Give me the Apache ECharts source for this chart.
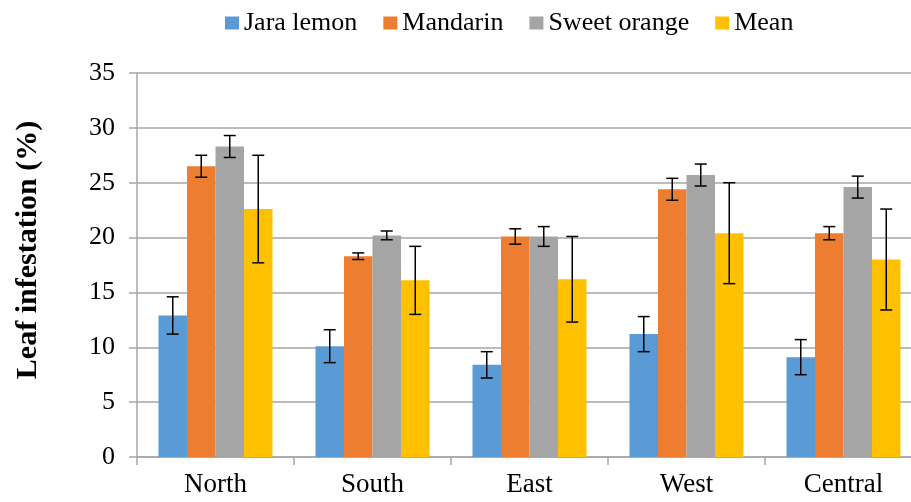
<!DOCTYPE html>
<html>
<head>
<meta charset="utf-8">
<script src="https://cdn.jsdelivr.net/npm/echarts@6/dist/echarts.min.js"></script>
<style>
  html, body { margin: 0; padding: 0; background: #fff; }
  #chart { width: 911px; height: 502px; }
</style>
</head>
<body>
<div id="chart"></div>
<script>
var categories = ['North', 'South', 'East', 'West', 'Central'];
var seriesNames = ['Jara lemon', 'Mandarin', 'Sweet orange', 'Mean'];
var jaraLemon = [12.9, 10.1, 8.4, 11.2, 9.1];
var jaraLemonErr = [1.7, 1.5, 1.2, 1.6, 1.6];
var mandarin = [26.5, 18.3, 20.1, 24.4, 20.4];
var mandarinErr = [1.0, 0.3, 0.7, 1.0, 0.6];
var sweetOrange = [28.3, 20.2, 20.1, 25.7, 24.6];
var sweetOrangeErr = [1.0, 0.4, 0.9, 1.0, 1.0];
var meanValues = [22.6, 16.1, 16.2, 20.4, 18.0];
var meanErr = [4.9, 3.1, 3.9, 4.6, 4.6];

var colors = ['#5B9BD5', '#ED7D31', '#A5A5A5', '#FFC000'];
var FONT = "'Liberation Serif', 'Times New Roman', serif";
var BAR_W = 28.5;

var values = [jaraLemon, mandarin, sweetOrange, meanValues];
var errors = [jaraLemonErr, mandarinErr, sweetOrangeErr, meanErr];

// error bar data: [category, series index, low, high]
var errData = [];
for (var k = 0; k < values.length; ++k) {
    for (var i = 0; i < categories.length; ++i) {
        errData.push([i, k, values[k][i] - errors[k][i], values[k][i] + errors[k][i]]);
    }
}

var series = [];
for (var k = 0; k < values.length; ++k) {
    series.push({
        name: seriesNames[k],
        type: 'bar',
        barWidth: BAR_W,
        barGap: '0%',
        itemStyle: { color: colors[k] },
        data: values[k]
    });
}
series.push({
    type: 'custom',
    z: 10,
    silent: true,
    encode: { x: 0, y: [2, 3] },
    data: errData,
    renderItem: function (params, api) {
        var cat = api.value(0);
        var k = api.value(1);
        var hi = api.coord([cat, api.value(3)]);
        var lo = api.coord([cat, api.value(2)]);
        var x = hi[0] + (k - 1.5) * BAR_W;
        var cap = 6;
        var style = { stroke: '#000', lineWidth: 1.5 };
        return {
            type: 'group',
            children: [
                { type: 'line', shape: { x1: x, y1: hi[1], x2: x, y2: lo[1] }, style: style },
                { type: 'line', shape: { x1: x - cap, y1: hi[1], x2: x + cap, y2: hi[1] }, style: style },
                { type: 'line', shape: { x1: x - cap, y1: lo[1], x2: x + cap, y2: lo[1] }, style: style }
            ]
        };
    }
});

var chart = echarts.init(document.getElementById('chart'));
chart.setOption({
    animation: false,
    textStyle: { fontFamily: FONT },
    legend: {
        data: seriesNames,
        left: 220,
        top: 5,
        itemWidth: 14,
        itemHeight: 13,
        itemGap: 26,
        icon: 'rect',
        textStyle: { fontFamily: FONT, fontSize: 26, color: '#000' }
    },
    // the plot runs past the right edge of the picture, as in the reference
    grid: { left: 137, width: 785, top: 73, bottom: 45, outerBoundsMode: 'none', containLabel: false },
    xAxis: {
        type: 'category',
        data: categories,
        axisLine: { lineStyle: { color: '#a6a6a6', width: 1.5 } },
        axisTick: { show: true, length: 8, lineStyle: { color: '#a6a6a6', width: 1.5 } },
        axisLabel: { fontFamily: FONT, fontSize: 27, color: '#000', margin: 14 }
    },
    yAxis: {
        type: 'value',
        min: 0,
        max: 35,
        interval: 5,
        name: 'Leaf infestation (%)',
        nameLocation: 'middle',
        nameGap: 94,
        nameTextStyle: { fontFamily: FONT, fontSize: 30, fontWeight: 'bold', color: '#000', padding: [0, 0, 0, 30] },
        axisLine: { show: true, lineStyle: { color: '#a6a6a6', width: 1.5 } },
        axisTick: { show: true, length: 8, lineStyle: { color: '#a6a6a6', width: 1.5 } },
        splitLine: { lineStyle: { color: '#a6a6a6', width: 1.5 } },
        axisLabel: { fontFamily: FONT, fontSize: 26, color: '#000', margin: 22 }
    },
    series: series
});
</script>
</body>
</html>
